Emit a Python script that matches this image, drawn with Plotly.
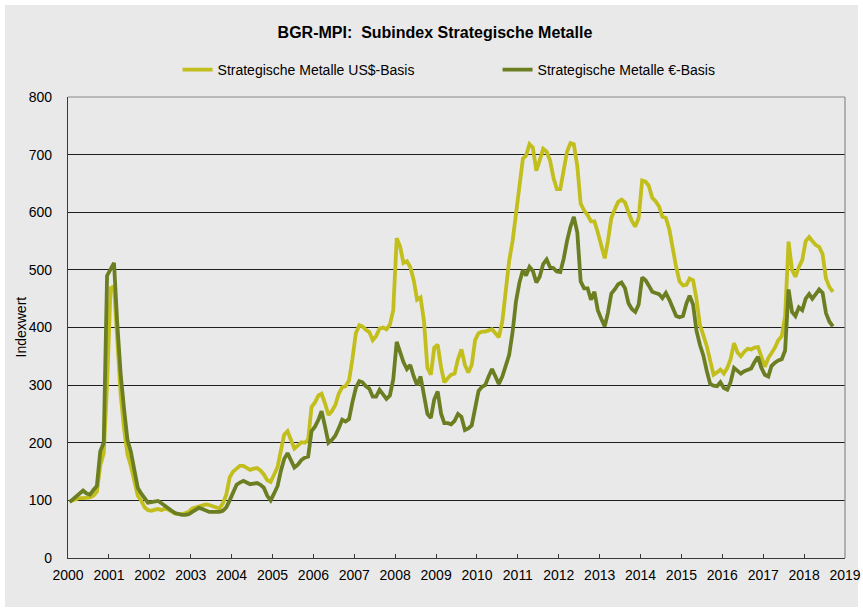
import pandas as pd
import plotly.graph_objects as go

# --- data (monthly, Jan 2000 - Sep 2018) ---
us_basis = [
    98, 100, 103, 104, 104, 105, 105, 108, 115, 160, 182, 300,      # 2000
    468, 471, 370, 285, 225, 180, 160, 135, 108, 100, 88, 83,       # 2001
    82, 84, 85, 83, 86, 84, 80, 77, 76, 76, 78, 80,                 # 2002
    86, 88, 90, 92, 93, 92, 90, 88, 86, 95, 110, 140,               # 2003
    150, 155, 160, 160, 157, 153, 155, 156, 152, 145, 135, 132,     # 2004
    145, 158, 185, 214, 220, 205, 190, 195, 201, 200, 205, 262,     # 2005
    270, 282, 285, 268, 248, 255, 265, 285, 296, 298, 308, 345,     # 2006
    390, 404, 402, 396, 392, 378, 385, 398, 400, 397, 405, 430,     # 2007
    555, 540, 512, 515, 505, 482, 448, 452, 410, 330, 318, 365,     # 2008
    370, 330, 305, 312, 318, 320, 345, 362, 335, 322, 335, 378,     # 2009
    390, 393, 393, 395, 397, 390, 383, 410, 470, 515, 550, 600,     # 2010
    655, 693, 698, 718, 712, 672, 690, 710, 705, 690, 660, 640,     # 2011
    640, 670, 705, 720, 718, 680, 615, 603, 595, 584, 584, 565,     # 2012
    545, 520, 550, 590, 605, 618, 622, 617, 600, 585, 575, 590,     # 2013
    655, 653, 646, 625, 619, 610, 592, 590, 570, 537, 505, 480,     # 2014
    473, 474, 485, 482, 450, 405, 388, 368, 342, 318, 322, 327,     # 2015
    320, 330, 345, 373, 357, 350, 358, 363, 362, 365, 366, 350,     # 2016
    332, 347, 355, 365, 378, 385, 420, 549, 500, 488, 505, 517,     # 2017
    550, 557, 550, 543, 540, 527, 485, 470, 462,                    # 2018
]

eur_basis = [
    97, 102, 108, 113, 117, 112, 110, 118, 125, 185, 200, 490,      # 2000
    500, 512, 410, 320, 260, 205, 185, 150, 122, 112, 103, 96,      # 2001
    97, 98, 99, 95, 90, 86, 82, 78, 76, 75, 75, 76,                 # 2002
    80, 84, 87, 85, 82, 80, 80, 80, 80, 82, 88, 100,                # 2003
    115, 127, 131, 134, 131, 128, 129, 130, 127, 122, 108, 100,     # 2004
    112, 125, 150, 172, 182, 168, 157, 162, 170, 174, 176, 220,     # 2005
    228, 240, 255, 228, 200, 205, 212, 225, 240, 237, 241, 270,     # 2006
    295, 307, 305, 298, 294, 280, 280, 292, 285, 276, 282, 310,     # 2007
    375, 358, 340, 328, 335, 315, 300, 315, 280, 250, 243, 275,     # 2008
    289, 250, 234, 234, 232, 238, 250, 245, 222, 225, 230, 262,     # 2009
    290, 297, 300, 315, 328, 315, 302, 315, 332, 352, 392, 445,     # 2010
    478, 500, 490, 505, 498, 478, 488, 510, 518, 505, 503, 497,     # 2011
    496, 520, 550, 575, 592, 565, 480, 468, 468, 448, 462, 430,     # 2012
    415, 402, 425, 459, 466, 475, 478, 468, 442, 432, 427, 440,     # 2013
    487, 482, 473, 462, 460, 458, 451, 460, 448, 432, 420, 418,     # 2014
    420, 442, 455, 440, 395, 370, 352, 325, 302, 299, 298, 305,     # 2015
    295, 292, 305, 330, 325, 320, 324, 327, 329, 340, 349, 330,     # 2016
    318, 315, 333, 339, 343, 345, 360, 466, 427, 420, 435, 430,     # 2017
    450, 458, 450, 458, 466, 460, 425, 410, 402,                    # 2018
]

series_names = ["Strategische Metalle US$-Basis", "Strategische Metalle €-Basis"]
year_labels = [str(y) for y in range(2000, 2020)]
y_ticks = [0, 100, 200, 300, 400, 500, 600, 700, 800]

dates = (pd.date_range("2000-01-01", periods=len(us_basis), freq="MS")
         + pd.Timedelta(days=14)).strftime("%Y-%m-%d").tolist()

C_US = "#c2be1c"
C_EUR = "#6b7e22"
BG = "#e9e9e9"
FONT = "Liberation Sans, Arial, sans-serif"

fig = go.Figure()
fig.add_trace(go.Scatter(x=dates, y=us_basis, mode="lines", name=series_names[0],
                         line=dict(color=C_US, width=3.8)))
fig.add_trace(go.Scatter(x=dates, y=eur_basis, mode="lines", name=series_names[1],
                         line=dict(color=C_EUR, width=3.8)))

fig.update_layout(
    width=863, height=611,
    margin=dict(l=68, r=18, t=97, b=53, autoexpand=False),
    paper_bgcolor="white",
    plot_bgcolor=BG,
    font=dict(family=FONT, size=14, color="#000000"),
    title=dict(text="<b>BGR-MPI:\u00a0 Subindex Strategische Metalle</b>",
               x=0.504, xanchor="center", xref="container",
               y=1 - 32 / 611, yanchor="middle", yref="container",
               font=dict(size=16, family=FONT, color="#000000")),
    showlegend=True,
    legend=dict(orientation="h", x=0.141, xanchor="left",
                y=1.0586, yanchor="middle",
                bgcolor="rgba(0,0,0,0)", font=dict(size=14, family=FONT),
                entrywidth=275, entrywidthmode="pixels", tracegroupgap=0),
    shapes=[
        dict(type="rect", xref="paper", yref="paper",
             x0=-0.0811, x1=1.0167, y0=-0.1063, y1=1.1996,
             fillcolor=BG, line=dict(width=0), layer="below"),
        dict(type="line", xref="paper", yref="paper", x0=0, x1=1, y0=1, y1=1,
             line=dict(color="#8a8a8a", width=1.2)),
        dict(type="line", xref="paper", yref="paper", x0=1, x1=1, y0=0, y1=1,
             line=dict(color="#8a8a8a", width=1.2)),
    ],
    annotations=[
        dict(text="Indexwert", xref="paper", yref="paper",
             x=(20 - 68) / 777, y=0.5, textangle=-90, showarrow=False,
             xanchor="center", yanchor="middle", font=dict(size=14, family=FONT)),
    ],
)

fig.update_xaxes(
    type="date", range=["2000-01-01", "2019-01-01"],
    tickvals=[f"{y}-01-01" for y in year_labels], ticktext=year_labels,
    ticks="inside", ticklen=4, tickcolor="#3a3a3a", tickwidth=1,
    showline=True, linecolor="#3a3a3a", linewidth=1.2,
    showgrid=False, zeroline=False, ticklabelstandoff=4, automargin=False,
    tickfont=dict(size=14, family=FONT, color="#000000"),
)
fig.update_yaxes(
    range=[0, 800], tickvals=y_ticks, ticks="",
    showline=True, linecolor="#3a3a3a", linewidth=1.2,
    showgrid=True, gridcolor="#1e1e1e", gridwidth=1, zeroline=False,
    ticklabelstandoff=12, automargin=False,
    tickfont=dict(size=14, family=FONT, color="#000000"),
)

fig.write_html("out.html", config={"displayModeBar": False},
               post_script="document.body.style.margin='0px';")
